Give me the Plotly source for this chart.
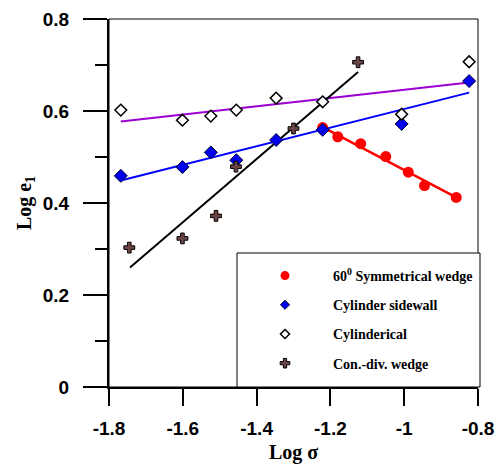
import plotly.graph_objects as go

# --- data: log sigma vs log e1 for four configurations ---
sym_x = [-1.221, -1.180, -1.118, -1.050, -0.989, -0.945, -0.859]
sym_y = [0.564, 0.544, 0.529, 0.501, 0.467, 0.438, 0.412]

side_x = [-1.768, -1.601, -1.524, -1.455, -1.347, -1.221, -1.007, -0.824]
side_y = [0.459, 0.478, 0.510, 0.493, 0.537, 0.559, 0.572, 0.665]

cyl_x = [-1.768, -1.601, -1.524, -1.455, -1.347, -1.221, -1.007, -0.824]
cyl_y = [0.602, 0.580, 0.589, 0.602, 0.628, 0.620, 0.593, 0.707]

cd_x = [-1.745, -1.601, -1.510, -1.456, -1.300, -1.125]
cd_y = [0.303, 0.323, 0.372, 0.479, 0.562, 0.706]

# fitted straight lines (end points)
sym_fit_x, sym_fit_y = [-1.221, -0.859], [0.565, 0.412]
side_fit_x, side_fit_y = [-1.768, -0.824], [0.449, 0.640]
cyl_fit_x, cyl_fit_y = [-1.768, -0.824], [0.577, 0.662]
cd_fit_x, cd_fit_y = [-1.743, -1.125], [0.260, 0.685]

x_ticks = [-1.8, -1.6, -1.4, -1.2, -1.0, -0.8]
x_tick_text = ["-1.8", "-1.6", "-1.4", "-1.2", "-1", "-0.8"]
y_ticks = [0, 0.2, 0.4, 0.6, 0.8]
y_tick_text = ["0", "0.2", "0.4", "0.6", "0.8"]

names = ["60<sup>0</sup> Symmetrical wedge", "Cylinder sidewall",
         "Cylinderical", "Con.-div. wedge"]

# marker styles per series
styles = [
    dict(symbol="circle", color="#ff0000", line=dict(width=0)),
    dict(symbol="diamond", color="#0000ee", line=dict(width=1, color="#000030")),
    dict(symbol="diamond", color="white", line=dict(width=1.5, color="black")),
    dict(symbol="cross", color="#6e4444", line=dict(width=1, color="black")),
]
plot_sizes = [11, 10, 9, 9]
legend_sizes = [9, 7, 7, 8]

fig = go.Figure()

# fit lines
for fx, fy, col, w in [(cyl_fit_x, cyl_fit_y, "#9b00d0", 2),
                       (side_fit_x, side_fit_y, "#0000ff", 2),
                       (cd_fit_x, cd_fit_y, "#000000", 2),
                       (sym_fit_x, sym_fit_y, "#ff0000", 2.5)]:
    fig.add_trace(go.Scatter(x=fx, y=fy, mode="lines", showlegend=False,
                             line=dict(color=col, width=w), hoverinfo="skip"))

# measured points
for (xs, ys), st, sz in zip([(sym_x, sym_y), (side_x, side_y),
                             (cyl_x, cyl_y), (cd_x, cd_y)],
                            styles, plot_sizes):
    fig.add_trace(go.Scatter(x=xs, y=ys, mode="markers", showlegend=False,
                             marker=dict(size=sz, **st)))

# legend-only entries with smaller symbols
for i, (nm, st, sz) in enumerate(zip(names, styles, legend_sizes)):
    fig.add_trace(go.Scatter(x=[None], y=[None], mode="markers", name=nm,
                             legendgroup=f"g{i}",
                             marker=dict(size=sz, **st)))

sans = dict(family="Liberation Sans", size=19, color="black", weight="bold")
serif = dict(family="Liberation Serif", size=20, color="black", weight="bold")

fig.update_layout(
    width=498, height=464,
    margin=dict(l=109, r=20, t=19, b=77, autoexpand=False),
    paper_bgcolor="white", plot_bgcolor="white",
    showlegend=True,
    legend=dict(
        x=(237 - 109) / 369, xanchor="left",
        y=(387 - 260) / 368, yanchor="top",
        bgcolor="rgba(0,0,0,0)", borderwidth=0,
        itemwidth=86, tracegroupgap=8,
        font=dict(family="Liberation Serif", size=14, color="black",
                  weight="bold"),
    ),
    shapes=[
        # thin frame around plot area
        dict(type="rect", xref="paper", yref="paper", x0=0, x1=1, y0=0, y1=1,
             line=dict(color="black", width=1), layer="below"),
        # legend box
        dict(type="rect", xref="paper", yref="paper",
             x0=(237 - 109) / 369, x1=(480 - 109) / 369,
             y0=0, y1=(387 - 253) / 368,
             line=dict(color="black", width=1), fillcolor="white",
             layer="below"),
    ],
)

fig.update_xaxes(
    range=[-1.8, -0.8], tickvals=x_ticks, ticktext=x_tick_text,
    showgrid=False, zeroline=False, showline=True, linecolor="black",
    linewidth=2, ticks="outside", ticklen=17, tickwidth=2, automargin=False,
    tickcolor="black", tickfont=sans, ticklabelstandoff=6,
    title=dict(text="Log σ", font=serif, standoff=10),
)
fig.update_yaxes(
    range=[0, 0.8], tickvals=y_ticks, ticktext=y_tick_text,
    showgrid=False, zeroline=False, showline=True, linecolor="black",
    linewidth=2, ticks="outside", ticklen=24, tickwidth=2, automargin=False,
    tickcolor="black", tickfont=sans, ticklabelstandoff=10,
    minor=dict(dtick=0.1, ticks="outside", ticklen=12, tickwidth=2,
               tickcolor="black", showgrid=False),
    title=dict(text="Log e<sub>1</sub>", font=serif, standoff=6),
)

fig.write_html("out.html")
